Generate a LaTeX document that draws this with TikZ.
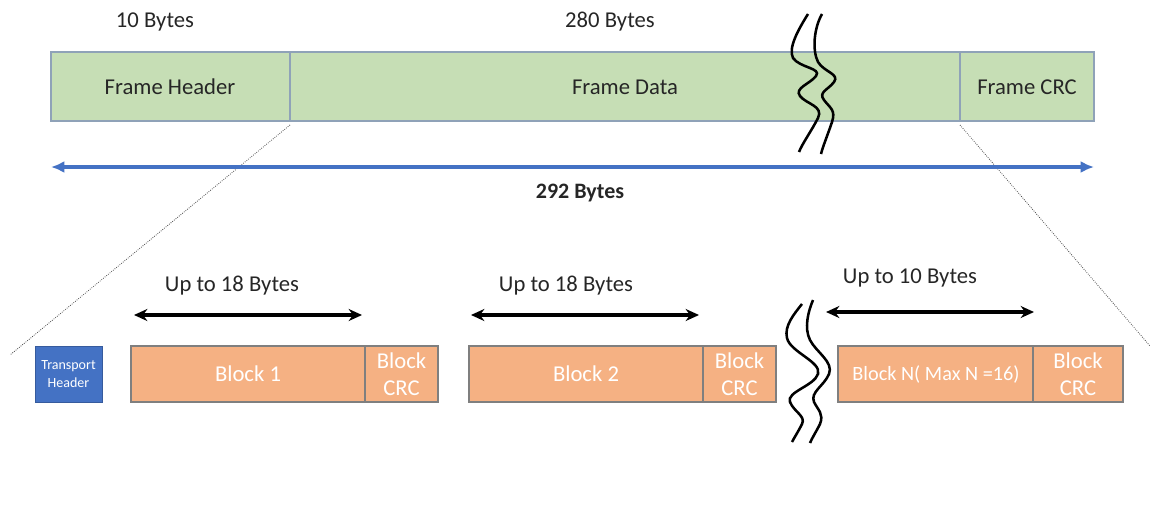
\documentclass[tikz,border=0pt]{standalone}
\usepackage{fontspec}
\setmainfont{Carlito}
\usetikzlibrary{arrows.meta}
\definecolor{framegreen}{HTML}{C6DEB5}
\definecolor{frameedge}{HTML}{8FA2B8}
\definecolor{blockorange}{HTML}{F5B183}
\definecolor{blockedge}{HTML}{7F7F7F}
\definecolor{hdrblue}{HTML}{4472C4}
\tikzset{
  framebox/.style={draw=frameedge, line width=0.9pt, fill=framegreen},
  blockbox/.style={draw=blockedge, line width=0.8pt, fill=blockorange},
  lbl/.style={font=\fontsize{17}{20}\selectfont, text=black!85},
  blocktxt/.style={font=\fontsize{17}{20}\selectfont, text=white, align=center},
  spanarrow/.style={line width=2.4pt, {Stealth[length=10pt,width=9pt]}-{Stealth[length=10pt,width=9pt]}},
  totalarrow/.style={draw=hdrblue, line width=2.8pt, {Latex[length=10pt,width=9pt]}-{Latex[length=10pt,width=9pt]}},
  zoomline/.style={densely dotted, line width=0.6pt, black!70},
  breakline/.style={line width=1.9pt, black}
}
\begin{document}
\begin{tikzpicture}[x=0.75pt, y=-0.75pt]
\useasboundingbox (0,0) rectangle (1152,504);

% ---- frame (top row) ----
\draw[framebox] (51,52) rectangle (290,121);
\draw[framebox] (290,52) rectangle (960,121);
\draw[framebox] (960,52) rectangle (1094,121);
\node[lbl] (fh) at (170,87) {Frame Header};
\node[lbl] (fd) at (625,87) {Frame Data};
\node[lbl] (fc) at (1027,87) {Frame CRC};
\node[lbl] (s10) at (155,22) {10 Bytes};
\node[lbl] (s280) at (610,22) {280 Bytes};

% corners used by the zoom lines
\coordinate (zl) at (290,125);
\coordinate (zr) at (960,125);
\coordinate (zlb) at (10,355);
\coordinate (zrb) at (1150,346);
\draw[zoomline] (zl) -- (zlb);
\draw[zoomline] (zr) -- (zrb);

% ---- total length ----
\coordinate (ta) at (51,167);
\coordinate (tb) at (1094,167);
\draw[totalarrow] (ta) -- (tb);
\node[lbl, font=\fontsize{16.5}{19}\selectfont\bfseries] (s292) at (580,193) {292 Bytes};

% break mark in the frame data
\draw[breakline] (808,14) .. controls (798,30) and (788,48) .. (793,58)
  .. controls (800,68) and (822,68) .. (816,76)
  .. controls (810,84) and (794,88) .. (800,96)
  .. controls (806,104) and (824,106) .. (818,118)
  .. controls (812,130) and (802,144) .. (799,152);
\draw[breakline] (822,14) .. controls (814,28) and (812,50) .. (818,62)
  .. controls (824,72) and (840,74) .. (834,82)
  .. controls (828,90) and (818,92) .. (824,100)
  .. controls (830,108) and (836,110) .. (832,122)
  .. controls (828,134) and (823,146) .. (821,154);

% ---- blocks (bottom row) ----
\node[fill=hdrblue, draw=hdrblue!80!black, minimum width=67*0.75pt, minimum height=56*0.75pt,
      text=white, align=center, font=\fontsize{10.5}{13}\selectfont, inner sep=0pt]
      (th) at (68.5,374) {Transport\\Header};

\draw[blockbox] (131,346) rectangle (365,402);
\draw[blockbox] (365,346) rectangle (438,402);
\node[blocktxt] (b1) at (248,374) {Block 1};
\node[blocktxt] (c1) at (401.5,374) {Block\\CRC};

\draw[blockbox] (469,346) rectangle (703,402);
\draw[blockbox] (703,346) rectangle (776,402);
\node[blocktxt] (b2) at (586,374) {Block 2};
\node[blocktxt] (c2) at (739.5,374) {Block\\CRC};

\draw[blockbox] (838,346) rectangle (1033,402);
\draw[blockbox] (1033,346) rectangle (1123,402);
\node[blocktxt, font=\fontsize{15.2}{18}\selectfont] (bn) at (936,374) {Block N( Max N =16)};
\node[blocktxt] (cn) at (1078,374) {Block\\CRC};

% break mark between block 2 and block N
\draw[breakline] (802,304) .. controls (794,314) and (784,326) .. (787,338)
  .. controls (790,352) and (822,362) .. (818,374)
  .. controls (814,386) and (786,392) .. (790,402)
  .. controls (794,412) and (806,416) .. (802,424)
  .. controls (798,432) and (794,438) .. (792,442);
\draw[breakline] (813,300) .. controls (808,312) and (804,328) .. (810,340)
  .. controls (816,352) and (834,362) .. (829,374)
  .. controls (824,386) and (810,392) .. (814,402)
  .. controls (818,410) and (824,414) .. (820,424)
  .. controls (816,432) and (812,438) .. (810,443);

% ---- block size spans ----
\coordinate (a1l) at (134,315); \coordinate (a1r) at (362,315);
\coordinate (a2l) at (471,315); \coordinate (a2r) at (699,315);
\coordinate (a3l) at (826,312); \coordinate (a3r) at (1034,312);
\draw[spanarrow] (a1l) -- (a1r);
\draw[spanarrow] (a2l) -- (a2r);
\draw[spanarrow] (a3l) -- (a3r);
\node[lbl] (u1) at (232,286) {Up to 18 Bytes};
\node[lbl] (u2) at (566,286) {Up to 18 Bytes};
\node[lbl] (u3) at (910,278) {Up to 10 Bytes};
\end{tikzpicture}
\end{document}
